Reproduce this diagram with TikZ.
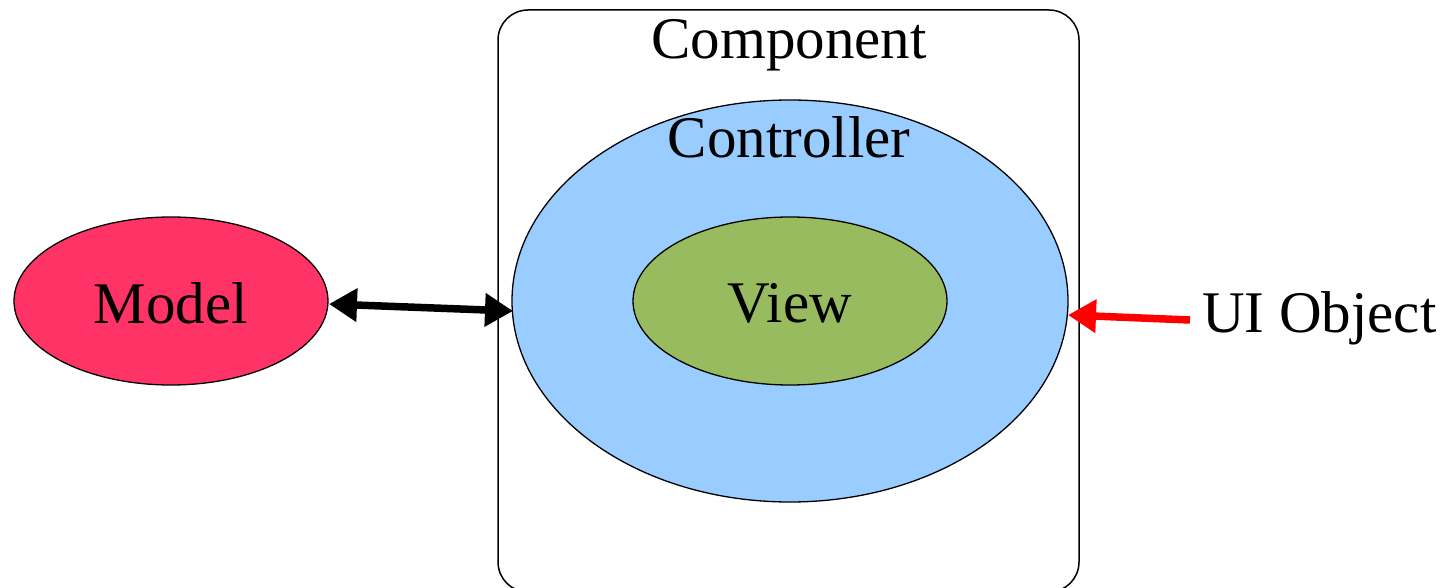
\documentclass[tikz,border=0pt]{standalone}
\usepackage{fontspec}
\setmainfont{Liberation Serif}
\usetikzlibrary{shapes.geometric,arrows.meta}
\definecolor{modelred}{HTML}{FF3366}
\definecolor{ctrlblue}{HTML}{99CCFF}
\definecolor{viewgreen}{HTML}{99BB5F}
\begin{document}
\begin{tikzpicture}[x=1pt,y=-1pt,
  lbl/.style={font=\fontsize{59}{62}\selectfont, inner sep=0pt},
  ell/.style={ellipse, draw=black, line width=1.3pt, inner sep=0pt},
  conn/.style={line width=7.5pt, -{Triangle[length=28pt,width=32pt]}}]
\useasboundingbox (0,0) rectangle (1445,588);
\begin{scope}
\clip (0,0) rectangle (1445,588);
\draw[line width=1.5pt, rounded corners=30pt] (498,10) rectangle (1079,592);
\end{scope}
\node[ell, fill=ctrlblue, minimum width=556pt, minimum height=402pt] (ctrl) at (790,301) {};
\node[ell, fill=viewgreen, minimum width=314pt, minimum height=168pt] (view) at (790,301) {};
\node[ell, fill=modelred, minimum width=314pt, minimum height=168pt] (model) at (171,301) {};
\node[lbl] (comp) at (789,45) {Component};
\node[lbl] (ctrllbl) at (789,137) {Controller};
\node[lbl] (viewlbl) at (790,303) {View};
\node[lbl] (modellbl) at (171,303) {Model};
\node[lbl, anchor=west] (ui) at (1202,318) {UI Object};
\coordinate (mr) at (329,304);
\coordinate (cl) at (513,311);
\coordinate (cr) at (1068,315);
\draw[conn, {Triangle[length=28pt,width=32pt]}-{Triangle[length=28pt,width=32pt]}] (mr) -- (cl);
\draw[conn, red] (ui.west) ++(-12,2) coordinate (uis) (uis) -- (cr);
\end{tikzpicture}
\end{document}
